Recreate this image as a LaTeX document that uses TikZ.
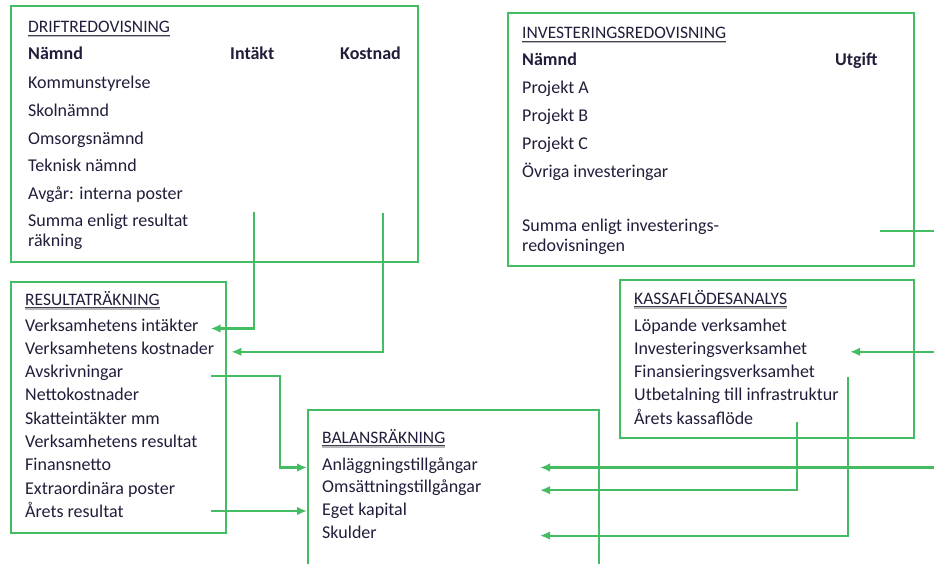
\documentclass[tikz,border=0pt]{standalone}
\usepackage{fontspec}
\setmainfont{Carlito}
\usetikzlibrary{
  positioning,
  arrows.meta,
  calc}
\definecolor{ramgron}{RGB}{68,188,98}
\definecolor{textbla}{RGB}{32,30,58}
\tikzset{
     ram/.style={draw=ramgron, line width=2pt, anchor=north west, inner sep=0pt},
     txt/.style={anchor=west, inner sep=0pt, text=textbla, yshift=-3.5pt,
        font=\fontsize{18}{20}\selectfont},
     rad/.style={txt, text height=.7em, text depth=.2em},
     fet/.style={rad, font=\fontsize{18}{20}\selectfont\bfseries},
     rubrik/.style={rad, font=\fontsize{17.5}{19}\selectfont,
        prefix after command={\pgfextra{\let\fixname\tikzlastnode}},
        append after command={\pgfextra{%underline with a grey shadow
           \draw[gray!55, line width=2.2pt]
              ([yshift=-3.4pt]\fixname.base west) -- ([yshift=-3.4pt]\fixname.base east);
           \draw[textbla!85, line width=.9pt]
              ([yshift=-2.3pt]\fixname.base west) -- ([yshift=-2.3pt]\fixname.base east);
        }}},
     linje/.style={draw=ramgron, line width=2.2pt},
     pil/.style={linje, -{Latex[length=10pt,width=8.5pt]}}
  }

\begin{document}
\begin{tikzpicture}[x=1pt, y=-1pt]
  \useasboundingbox (0,0) rectangle (934,564);
  \clip (0,0) rectangle (934,564);
  % frames
  \node[ram, minimum width=407pt, minimum height=256pt] (drift) at (10,5) {};
  \node[ram, minimum width=406pt, minimum height=253pt] (invest) at (507,12) {};
  \node[ram, minimum width=215pt, minimum height=251pt] (result) at (10,281) {};
  \node[ram, minimum width=294pt, minimum height=158pt] (kassa) at (619,279) {};
  \node[ram, minimum width=291pt, minimum height=200pt] (balans) at (307,409) {};
%
  % driftredovisning
  \node[rubrik] (drifth) at (28,27) {DRIFTREDOVISNING};
  \node[fet] (driftn) at (28,54) {Nämnd};
  \node[fet] (intakt) at (230,54) {Intäkt};
  \node[fet] (kostnad) at (340,54) {Kostnad};
  \foreach \t [count=\i] in {Kommunstyrelse, Skolnämnd, Omsorgsnämnd,
      Teknisk nämnd, Avgår: interna poster}
    \node[rad] (drift\i) at (28,{55+27.7*\i}) {\t};
  \node[txt, align=left] (driftsum) at (28,228) {Summa enligt resultat\\räkning};
%
  % investeringsredovisning
  \node[rubrik] (invh) at (522,33) {INVESTERINGSREDOVISNING};
  \node[fet] (invn) at (522,60) {Nämnd};
  \node[fet] (utgift) at (835,60) {Utgift};
  \foreach \t [count=\i] in {Projekt A, Projekt B, Projekt C, Övriga investeringar}
    \node[rad] (inv\i) at (522,{60+27.8*\i}) {\t};
  \node[txt, align=left] (invsum) at (522,233) {Summa enligt investerings-\\redovisningen};
%
  % resultaträkning
  \node[rubrik] (resh) at (25,299) {RESULTATRÄKNING};
  \foreach \t [count=\i] in {Verksamhetens intäkter, Verksamhetens kostnader,
      Avskrivningar, Nettokostnader, Skatteintäkter mm, Verksamhetens resultat,
      Finansnetto, Extraordinära poster, Årets resultat}
    \node[rad] (res\i) at (25,{301.7+23.3*\i}) {\t};
%
  % balansräkning
  \node[rubrik] (balh) at (322,437) {BALANSRÄKNING};
  \foreach \t [count=\i] in {Anläggningstillgångar, Omsättningstillgångar,
      Eget kapital, Skulder}
    \node[rad] (bal\i) at (322,{441.3+22.7*\i}) {\t};
%
  % kassaflödesanalys
  \node[rubrik] (kash) at (634,298) {KASSAFLÖDESANALYS};
  \foreach \t [count=\i] in {Löpande verksamhet, Investeringsverksamhet,
      Finansieringsverksamhet, Utbetalning till infrastruktur, Årets kassaflöde}
    \node[rad] (kas\i) at (634,{301.8+23.25*\i}) {\t};
%
  % connectors
  \coordinate (intfran) at (254,212);
  \coordinate (kostfran) at (383,213);
  \coordinate (avsfran) at (211,376);
  \coordinate (arfran) at (211,511);
  \coordinate (invfran) at (880,231);
  \coordinate (kfran) at (797,422);
  \coordinate (ffran) at (848,377);
  \coordinate (hoger) at (946,0);
  \coordinate (balkant) at (540,0);
  \coordinate (kaskant) at (850,0);
  \draw[pil] (intfran) |- ([xshift=12pt]res1.east);
  \draw[pil] (kostfran) |- ([xshift=17pt]res2.east);
  \draw[pil] (avsfran) -- ++(69,0) |- (bal1 -| balans.west);
  \draw[pil] (arfran) -- (arfran -| balans.west);
  \draw[pil] (invfran) -| (hoger |- bal1) -- (bal1 -| balkant);
  \draw[pil] (hoger |- kas2) -- (kas2 -| kaskant);
  \draw[pil] (kfran) |- (bal2 -| balkant);
  \draw[pil] (ffran) |- (bal4 -| balkant);
\end{tikzpicture}
\end{document}
